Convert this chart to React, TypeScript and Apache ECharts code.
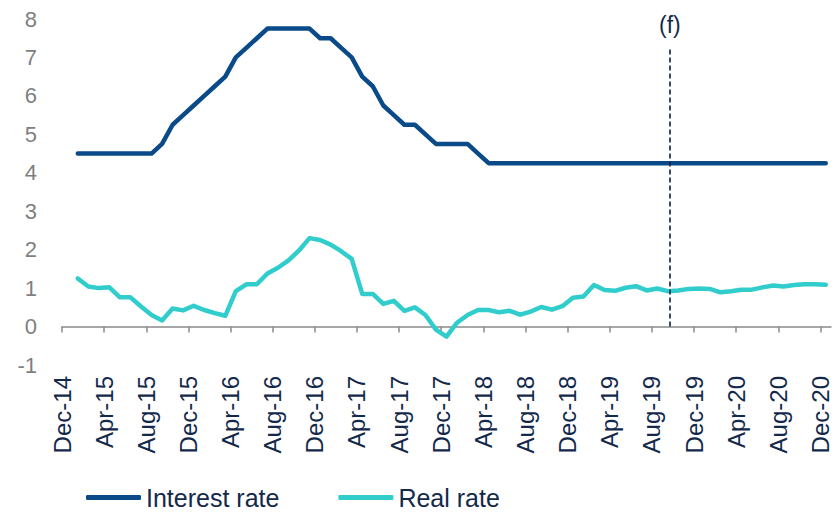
import React, { useEffect, useRef } from "react";
import * as echarts from "echarts";

// Tick labels every 4 months (axis runs from the start of Dec-14 to the start of Jan-21)
const tickLabels = [
  "Dec-14", "Apr-15", "Aug-15", "Dec-15", "Apr-16", "Aug-16", "Dec-16",
  "Apr-17", "Aug-17", "Dec-17", "Apr-18", "Aug-18", "Dec-18", "Apr-19",
  "Aug-19", "Dec-19", "Apr-20", "Aug-20", "Dec-20",
];

// Monthly observations, Jan-15 .. Dec-20
const months = [
  "Jan-15", "Feb-15", "Mar-15", "Apr-15", "May-15", "Jun-15", "Jul-15", "Aug-15", "Sep-15", "Oct-15", "Nov-15", "Dec-15",
  "Jan-16", "Feb-16", "Mar-16", "Apr-16", "May-16", "Jun-16", "Jul-16", "Aug-16", "Sep-16", "Oct-16", "Nov-16", "Dec-16",
  "Jan-17", "Feb-17", "Mar-17", "Apr-17", "May-17", "Jun-17", "Jul-17", "Aug-17", "Sep-17", "Oct-17", "Nov-17", "Dec-17",
  "Jan-18", "Feb-18", "Mar-18", "Apr-18", "May-18", "Jun-18", "Jul-18", "Aug-18", "Sep-18", "Oct-18", "Nov-18", "Dec-18",
  "Jan-19", "Feb-19", "Mar-19", "Apr-19", "May-19", "Jun-19", "Jul-19", "Aug-19", "Sep-19", "Oct-19", "Nov-19", "Dec-19",
  "Jan-20", "Feb-20", "Mar-20", "Apr-20", "May-20", "Jun-20", "Jul-20", "Aug-20", "Sep-20", "Oct-20", "Nov-20", "Dec-20",
];

const interestRate = [
  4.5, 4.5, 4.5, 4.5, 4.5, 4.5, 4.5, 4.5, 4.75, 5.25, 5.5, 5.75,
  6.0, 6.25, 6.5, 7.0, 7.25, 7.5, 7.75, 7.75, 7.75, 7.75, 7.75, 7.5,
  7.5, 7.25, 7.0, 6.5, 6.25, 5.75, 5.5, 5.25, 5.25, 5.0, 4.75, 4.75,
  4.75, 4.75, 4.5, 4.25, 4.25, 4.25, 4.25, 4.25, 4.25, 4.25, 4.25, 4.25,
  4.25, 4.25, 4.25, 4.25, 4.25, 4.25, 4.25, 4.25, 4.25, 4.25, 4.25, 4.25,
  4.25, 4.25, 4.25, 4.25, 4.25, 4.25, 4.25, 4.25, 4.25, 4.25, 4.25, 4.25,
];

const realRate = [
  1.25, 1.04, 1.0, 1.02, 0.76, 0.76, 0.52, 0.3, 0.16, 0.47, 0.42, 0.54,
  0.43, 0.35, 0.28, 0.92, 1.1, 1.1, 1.38, 1.53, 1.72, 1.98, 2.3, 2.25,
  2.13, 1.96, 1.76, 0.85, 0.85, 0.59, 0.67, 0.41, 0.5, 0.3, -0.08, -0.26,
  0.1, 0.3, 0.43, 0.43, 0.37, 0.41, 0.31, 0.39, 0.51, 0.44, 0.53, 0.75,
  0.78, 1.08, 0.95, 0.93, 1.01, 1.05, 0.94, 0.99, 0.92, 0.94, 0.98, 0.99,
  0.98, 0.89, 0.92, 0.96, 0.96, 1.02, 1.07, 1.04, 1.08, 1.1, 1.1, 1.09,
];

// Forecast marker position (months from start of Dec-14) and its height
const forecastX = 57.7;
const forecastTop = 7.28;

const FONT = "'Liberation Sans', Arial, sans-serif";
const NAVY = "#13294b";
const GREY = "#7f7f7f";

export default function App() {
  const ref = useRef<HTMLDivElement>(null);

  useEffect(() => {
    if (!ref.current) return;
    const chart = echarts.init(ref.current, undefined, { renderer: "svg" });

    // Month index 0 = band of Dec-14; each observation sits mid-band
    const pos = (i: number) => i + 1.5;
    const tickValues = tickLabels.map((_, k) => k * 4);

    chart.setOption({
      animation: false,
      textStyle: { fontFamily: FONT },
      grid: { left: 62, right: 9, top: 19, bottom: 147, containLabel: false },
      legend: {
        left: 81,
        top: 480,
        itemWidth: 55,
        itemHeight: 5,
        itemGap: 59,
        icon: "roundRect",
        textStyle: { fontSize: 25, color: NAVY, fontFamily: FONT },
        data: ["Interest rate", "Real rate"],
      },
      xAxis: [
        {
          type: "value",
          min: 0,
          max: 73,
          axisLine: { show: true, onZero: true, lineStyle: { color: "#8a8a8a", width: 1.5 } },
          axisTick: { show: true, length: 6, customValues: tickValues, lineStyle: { color: "#8a8a8a", width: 1.5 } },
          axisLabel: { show: false },
          splitLine: { show: false },
        },
        {
          type: "value",
          min: 0,
          max: 73,
          position: "bottom",
          axisLine: { show: false, onZero: false },
          axisTick: { show: false },
          splitLine: { show: false },
          axisLabel: {
            customValues: tickValues,
            rotate: 90,
            margin: 11,
            fontSize: 24,
            color: NAVY,
            fontFamily: FONT,
            formatter: (v: number) => tickLabels[Math.round(v / 4)] ?? "",
          },
        },
      ],
      yAxis: {
        type: "value",
        min: -1,
        max: 8,
        interval: 1,
        axisLine: { show: false },
        axisTick: { show: false },
        splitLine: { show: false },
        axisLabel: { fontSize: 22, color: GREY, margin: 25, fontFamily: FONT },
      },
      series: [
        {
          name: "Interest rate",
          type: "line",
          xAxisIndex: 0,
          showSymbol: false,
          symbol: "none",
          color: "#0a4a88",
          lineStyle: { width: 4.5, color: "#0a4a88", cap: "round", join: "round" },
          data: interestRate.map((v, i) => [pos(i), v, months[i]]),
          markLine: {
            silent: true,
            symbol: ["none", "none"],
            lineStyle: { type: [5, 3], color: "#0d1f3c", width: 1.6 },
            label: {
              show: true,
              position: "end",
              formatter: "(f)",
              fontSize: 23,
              color: NAVY,
              fontFamily: FONT,
              distance: 10,
            },
            data: [[{ coord: [forecastX, 0] }, { coord: [forecastX, forecastTop] }]],
          },
        },
        {
          name: "Real rate",
          type: "line",
          xAxisIndex: 0,
          showSymbol: false,
          symbol: "none",
          color: "#31cccc",
          lineStyle: { width: 4.5, color: "#31cccc", cap: "round", join: "round" },
          data: realRate.map((v, i) => [pos(i), v, months[i]]),
        },
      ],
    });

    return () => chart.dispose();
  }, []);

  return (
    <div
      ref={ref}
      style={{ position: "fixed", left: 0, top: 0, width: 840, height: 512, background: "#fff" }}
    />
  );
}
